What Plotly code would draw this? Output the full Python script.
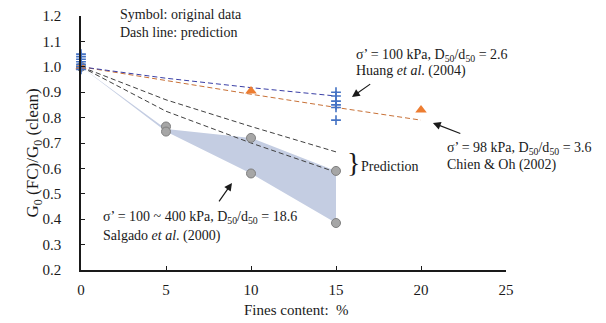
import plotly.graph_objects as go

# --- data -----------------------------------------------------------------
# Huang et al. (2004), sigma' = 100 kPa
huang_fc = [0, 0, 0, 0, 0, 0, 0, 15, 15, 15, 15, 15, 15]
huang_g = [1.05, 1.04, 1.03, 1.02, 1.01, 1.00, 0.99,
           0.90, 0.885, 0.865, 0.85, 0.84, 0.79]
huang_pred_fc = [0, 5, 10, 15]
huang_pred_g = [1.0, 0.955, 0.918, 0.885]

# Chien & Oh (2002), sigma' = 98 kPa
chien_fc = [0, 10, 20]
chien_g = [1.0, 0.905, 0.83]
chien_pred_fc = [0, 5, 10, 15, 20]
chien_pred_g = [1.0, 0.945, 0.892, 0.84, 0.79]

# Salgado et al. (2000), sigma' = 100 ~ 400 kPa
salgado_fc = [0, 5, 5, 10, 10, 15, 15]
salgado_g = [1.0, 0.765, 0.745, 0.72, 0.58, 0.59, 0.385]
band_fc = [0, 5, 10, 15]
band_upper = [1.0, 0.755, 0.72, 0.59]
band_lower = [1.0, 0.745, 0.58, 0.385]
pred_hi_fc = [0, 5, 10, 15]
pred_hi_g = [1.0, 0.87, 0.765, 0.665]
pred_lo_fc = [0, 5, 10, 15]
pred_lo_g = [1.0, 0.825, 0.70, 0.585]

x_ticks = [0, 5, 10, 15, 20, 25]
y_ticks = [0.2, 0.3, 0.4, 0.5, 0.6, 0.7, 0.8, 0.9, 1.0, 1.1, 1.2]

FONT = "Liberation Serif"
INK = "#1a1a1a"

fig = go.Figure()

# shaded range of the Salgado data
fig.add_trace(go.Scatter(
    x=band_fc + band_fc[::-1], y=band_upper + band_lower[::-1],
    fill="toself", fillcolor="rgb(196,205,226)", mode="lines",
    line=dict(width=0, color="rgb(196,205,226)"), hoverinfo="skip",
))

dash = "5px,3px"
for xs, ys, col in [
    (pred_hi_fc, pred_hi_g, "#404040"),
    (pred_lo_fc, pred_lo_g, "#404040"),
    (chien_pred_fc, chien_pred_g, "#C87137"),
    (huang_pred_fc, huang_pred_g, "#3A3FA6"),
]:
    fig.add_trace(go.Scatter(x=xs, y=ys, mode="lines",
                             line=dict(color=col, width=1, dash=dash),
                             cliponaxis=False))

fig.add_trace(go.Scatter(
    x=salgado_fc, y=salgado_g, mode="markers", cliponaxis=False,
    marker=dict(symbol="circle", size=9, color="#A6A6A6",
                line=dict(color="#7F7F7F", width=1)),
))
fig.add_trace(go.Scatter(
    x=chien_fc, y=chien_g, mode="markers", cliponaxis=False,
    marker=dict(symbol="triangle-up", size=10, color="#ED7D31"),
))
fig.add_trace(go.Scatter(
    x=huang_fc, y=huang_g, mode="markers", cliponaxis=False,
    marker=dict(symbol="cross-thin", size=7,
                line=dict(color="#4472C4", width=1.6)),
))

ann = []


def txt(x, y, s, size=14, xref="x", yref="y", xanchor="left", angle=0):
    ann.append(dict(x=x, y=y, xref=xref, yref=yref, text=s, showarrow=False,
                    xanchor=xanchor, yanchor="middle", textangle=angle,
                    font=dict(family=FONT, size=size, color=INK)))


def arrow(x, y, ax, ay):
    ann.append(dict(x=x, y=y, ax=ax, ay=ay, xref="x", yref="y",
                    axref="x", ayref="y", text="", showarrow=True,
                    arrowhead=2, arrowsize=1.3, arrowwidth=1.2,
                    arrowcolor=INK))


txt(2.15, 1.004, "Symbol: original data", yref="paper")
txt(2.15, 1.137, "Dash line: prediction")
txt(16.05, 1.046, "σ’ = 100 kPa, D<sub>50</sub>/d<sub>50</sub> = 2.6")
txt(16.05, 0.983, "Huang <i>et al</i>. (2004)")
arrow(15.94, 0.881, 17.1, 0.936)
txt(21.4, 0.680, "σ’ = 98 kPa, D<sub>50</sub>/d<sub>50</sub> = 3.6")
txt(21.4, 0.613, "Chien & Oh (2002)")
arrow(20.7, 0.779, 22.4, 0.735)
txt(1.2, 0.405, "σ’ = 100 ~ 400 kPa, D<sub>50</sub>/d<sub>50</sub> = 18.6")
txt(1.2, 0.334, "Salgado <i>et al</i>. (2000)")
arrow(8.88, 0.543, 8.06, 0.464)
txt(15.55, 0.624, "}", size=28)
txt(16.35, 0.606, "Prediction")

# axis titles
txt(0.508, -0.157, "Fines content:  %", size=15, xref="paper",
    yref="paper", xanchor="center")
txt(-0.11, 0.46, "G<sub>0</sub> (FC)/G<sub>0</sub> (clean)", size=17,
    xref="paper", yref="paper", xanchor="center", angle=-90)

fig.update_layout(
    width=606, height=323, showlegend=False,
    margin=dict(l=81, r=100, t=16, b=53),
    paper_bgcolor="white", plot_bgcolor="white",
    font=dict(family=FONT, size=15, color=INK),
    annotations=ann,
    xaxis=dict(range=[0, 25], tickvals=x_ticks, ticks="inside", ticklen=4,
               tickwidth=1.2, tickcolor=INK, showline=True,
               linecolor=INK, linewidth=1.5, showgrid=False,
               zeroline=False, ticklabelstandoff=5, automargin=False,
               tickfont=dict(family=FONT, size=15)),
    yaxis=dict(range=[0.2, 1.2], tickvals=y_ticks, tickformat=".1f",
               ticks="inside", ticklen=4, tickwidth=1.2,
               tickcolor=INK, showline=True, linecolor=INK,
               linewidth=1.5, showgrid=False, zeroline=False,
               ticklabelstandoff=15, automargin=False,
               tickfont=dict(family=FONT, size=15)),
)

fig.write_html("out.html")
